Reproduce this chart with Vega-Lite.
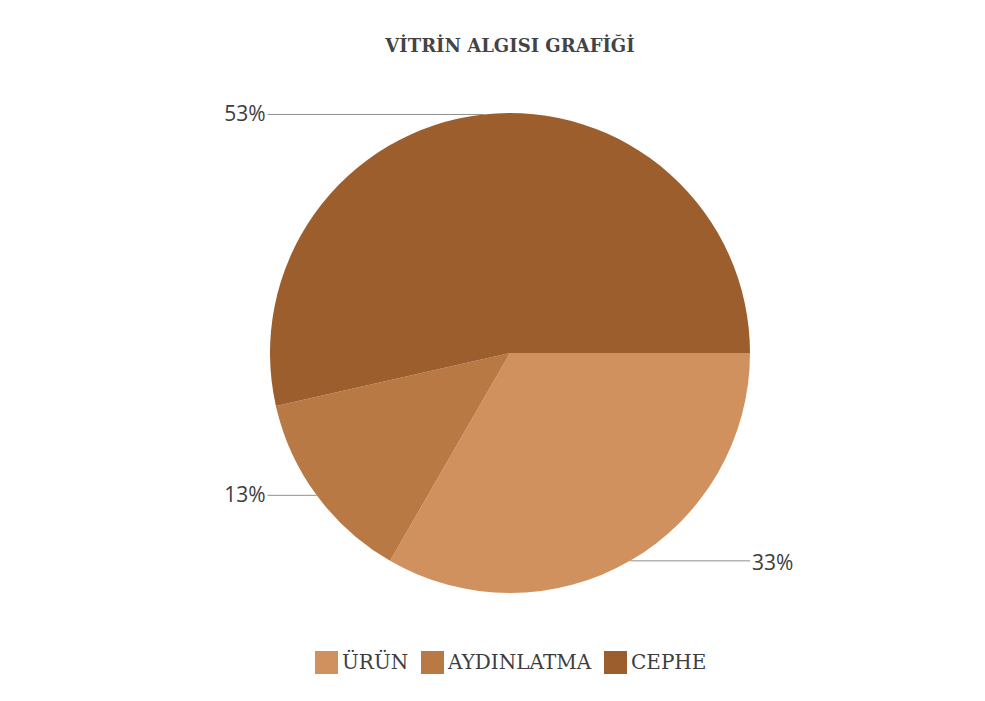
{
  "$schema": "https://vega.github.io/schema/vega-lite/v6.json",
  "width": 480,
  "height": 480,
  "autosize": {"type": "none"},
  "padding": {"left": 270, "top": 113, "right": 235, "bottom": 108},
  "background": "white",
  "title": {
    "text": "VİTRİN ALGISI GRAFİĞİ",
    "font": "DejaVu Serif",
    "fontSize": 18,
    "fontWeight": "bold",
    "color": "#444444",
    "anchor": "middle",
    "baseline": "alphabetic",
    "offset": 34
  },
  "data": {
    "values": [
      {"category": "ÜRÜN", "value": 33, "order": 1},
      {"category": "AYDINLATMA", "value": 13, "order": 2},
      {"category": "CEPHE", "value": 53, "order": 3}
    ]
  },
  "transform": [
    {"joinaggregate": [{"op": "sum", "field": "value", "as": "total"}]},
    {"window": [{"op": "sum", "field": "value", "as": "cum"}], "sort": [{"field": "order"}], "frame": [null, 0]},
    {"calculate": "PI/2 + 2*PI*(datum.cum - datum.value/2)/datum.total", "as": "mid"},
    {"calculate": "sin(datum.mid)", "as": "ex"},
    {"calculate": "cos(datum.mid)", "as": "ey"},
    {"calculate": "datum.ex > 0 ? 1.0 : -1.01", "as": "lx"},
    {"calculate": "datum.value + '%'", "as": "label"}
  ],
  "layer": [
    {
      "mark": {"type": "rule", "color": "#8f8f8f", "strokeWidth": 1},
      "encoding": {
        "x": {"field": "ex", "type": "quantitative", "scale": {"domain": [-1, 1], "nice": false, "zero": false}, "axis": null},
        "x2": {"field": "lx"},
        "y": {"field": "ey", "type": "quantitative", "scale": {"domain": [-1, 1], "nice": false, "zero": false}, "axis": null}
      }
    },
    {
      "mark": {"type": "arc", "stroke": null},
      "encoding": {
        "theta": {"field": "value", "type": "quantitative", "stack": true, "scale": {"range": [1.5707963, 7.8539816]}},
        "order": {"field": "order", "type": "quantitative"},
        "color": {
          "field": "category",
          "type": "nominal",
          "sort": ["ÜRÜN", "AYDINLATMA", "CEPHE"],
          "scale": {"domain": ["ÜRÜN", "AYDINLATMA", "CEPHE"], "range": ["#D0915F", "#B87944", "#9C5E2D"]},
          "legend": {
            "title": null,
            "orient": "none",
            "legendX": 45,
            "legendY": 538,
            "direction": "horizontal",
            "symbolType": "square",
            "symbolSize": 529,
            "symbolStrokeWidth": 0,
            "symbolOpacity": 1,
            "labelFont": "DejaVu Serif",
            "labelFontSize": 20,
            "labelColor": "#3d3d3d",
            "labelOffset": 4,
            "columnPadding": 12,
            "labelLimit": 300
          }
        }
      }
    },
    {
      "transform": [{"filter": "datum.ex < 0"}],
      "mark": {"type": "text", "align": "right", "baseline": "middle", "dx": -2, "dy": 1, "font": "Open Sans", "fontSize": 21, "color": "#3d3d3d"},
      "encoding": {
        "x": {"field": "lx", "type": "quantitative"},
        "y": {"field": "ey", "type": "quantitative"},
        "text": {"field": "label"}
      }
    },
    {
      "transform": [{"filter": "datum.ex > 0"}],
      "mark": {"type": "text", "align": "left", "baseline": "middle", "dx": 2, "dy": 3, "font": "Open Sans", "fontSize": 21, "color": "#3d3d3d"},
      "encoding": {
        "x": {"field": "lx", "type": "quantitative"},
        "y": {"field": "ey", "type": "quantitative"},
        "text": {"field": "label"}
      }
    }
  ],
  "config": {"view": {"stroke": null}}
}
